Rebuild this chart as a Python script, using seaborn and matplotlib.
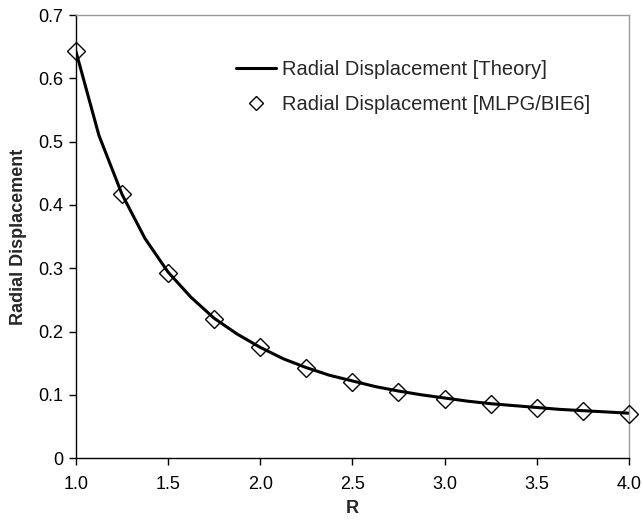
import matplotlib
matplotlib.use("Agg")
import matplotlib.pyplot as plt
import seaborn as sns
import pandas as pd

# theory curve
r_theory = [1.0, 1.125, 1.25, 1.375, 1.5, 1.625, 1.75, 1.875, 2.0, 2.125, 2.25, 2.375, 2.5,
            2.625, 2.75, 2.875, 3.0, 3.125, 3.25, 3.375, 3.5, 3.625, 3.75, 3.875, 4.0]
u_theory = [0.643, 0.510, 0.417, 0.347, 0.294, 0.254, 0.221, 0.196, 0.175, 0.157, 0.143, 0.131, 0.122,
            0.113, 0.106, 0.100, 0.095, 0.090, 0.086, 0.083, 0.080, 0.077, 0.075, 0.073, 0.071]

# MLPG/BIE6 points
r_mlpg = [1.0, 1.25, 1.5, 1.75, 2.0, 2.25, 2.5, 2.75, 3.0, 3.25, 3.5, 3.75, 4.0]
u_mlpg = [0.643, 0.417, 0.293, 0.220, 0.175, 0.143, 0.121, 0.104, 0.094, 0.085, 0.079, 0.074, 0.070]

x_ticks = [1.0, 1.5, 2.0, 2.5, 3.0, 3.5, 4.0]
y_ticks = [0, 0.1, 0.2, 0.3, 0.4, 0.5, 0.6, 0.7]

sns.set_style("ticks")
plt.rcParams["font.family"] = ["Liberation Sans", "DejaVu Sans"]

df_th = pd.DataFrame({"R": r_theory, "u": u_theory})
df_ml = pd.DataFrame({"R": r_mlpg, "u": u_mlpg})

fig = plt.figure(figsize=(6.43, 5.2), dpi=100)
ax = fig.add_axes([0.118, 0.119, 0.860, 0.852])

sns.lineplot(data=df_th, x="R", y="u", ax=ax, color="black", linewidth=2.2,
             label="Radial Displacement [Theory]", zorder=2)
ax.plot(df_ml["R"], df_ml["u"], linestyle="none", marker="D", markersize=9.5,
        markerfacecolor="none", markeredgecolor="black", markeredgewidth=1.0,
        label="Radial Displacement [MLPG/BIE6]", clip_on=False, zorder=3)

ax.set_xlim(1.0, 4.0)
ax.set_ylim(0, 0.7)
ax.set_xticks(x_ticks)
ax.set_xticklabels([f"{v:.1f}" for v in x_ticks])
ax.set_yticks(y_ticks)
ax.set_yticklabels(["0"] + [f"{v:.1f}" for v in y_ticks[1:]])
ax.tick_params(axis="both", direction="out", length=5, width=1, labelsize=13,
               colors="black")
ax.tick_params(axis="x", pad=8)
ax.tick_params(axis="y", pad=4)

for side in ["top", "right"]:
    ax.spines[side].set_visible(True)
    ax.spines[side].set_color("#999999")
    ax.spines[side].set_linewidth(1)
for side in ["left", "bottom"]:
    ax.spines[side].set_color("black")
    ax.spines[side].set_linewidth(1)

ax.set_xlabel("R", fontsize=13, fontweight="bold", labelpad=5)
ax.set_ylabel("Radial Displacement", fontsize=13, fontweight="bold", labelpad=8)

leg = ax.legend(loc="upper left", bbox_to_anchor=(0.289, 0.898), frameon=False,
                borderpad=0, borderaxespad=0,
                fontsize=14.5, handlelength=2.0, handletextpad=0.3, labelspacing=0.8,
                markerscale=0.75)

fig.savefig("out.png", dpi=100)
